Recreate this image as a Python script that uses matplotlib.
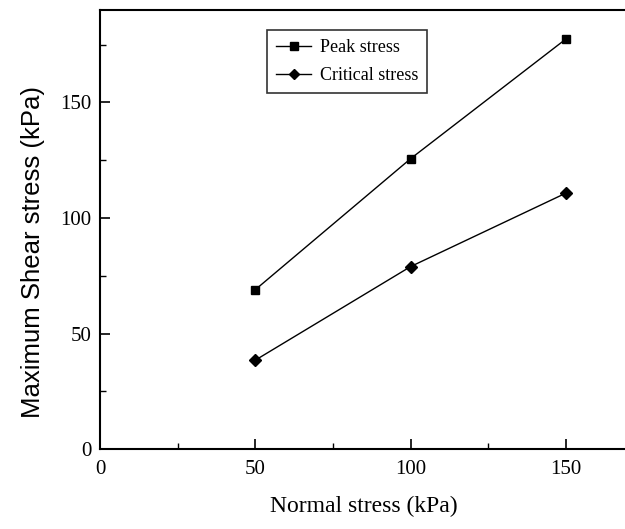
import matplotlib
matplotlib.use("Agg")
import matplotlib.pyplot as plt
from matplotlib.ticker import MultipleLocator

# Normal stress levels and measured shear strengths (kPa)
normal_stress = [50, 100, 150]
peak_stress = [69, 125.7, 177.5]
critical_stress = [38.5, 79, 110.8]

plt.rcParams['font.family'] = ['Liberation Serif', 'DejaVu Serif']

fig = plt.figure(figsize=(6.25, 5.29), dpi=100)
ax = fig.add_axes([0.16, 0.151, 0.845, 0.83])

ax.plot(normal_stress, peak_stress, color='black', linewidth=1.0,
        marker='s', markersize=6, label='Peak stress')
ax.plot(normal_stress, critical_stress, color='black', linewidth=1.0,
        marker='D', markersize=6, label='Critical stress')

ax.set_xlim(0, 170)
ax.set_ylim(0, 190)
ax.xaxis.set_major_locator(MultipleLocator(50))
ax.xaxis.set_minor_locator(MultipleLocator(25))
ax.yaxis.set_major_locator(MultipleLocator(50))
ax.yaxis.set_minor_locator(MultipleLocator(25))
ax.tick_params(which='major', direction='in', length=7, width=1.2, labelsize=15, pad=6)
ax.tick_params(axis='x', which='major', pad=8)
ax.tick_params(which='minor', direction='in', length=4, width=1.0)
for s in ax.spines.values():
    s.set_linewidth(1.5)

ax.set_xlabel('Normal stress (kPa)', fontsize=17, labelpad=12)
ax.set_ylabel('Maximum Shear stress (kPa)', fontsize=18.5,
              family=['Liberation Sans', 'DejaVu Sans'])
ax.yaxis.set_label_coords(-0.105, 0.45)

leg = ax.legend(loc='upper left', bbox_to_anchor=(0.3, 0.975), fontsize=13,
                frameon=True, fancybox=False, edgecolor='black',
                handlelength=1.9, handletextpad=0.5, markerscale=0.85,
                borderpad=0.5, labelspacing=0.6)
leg.get_frame().set_linewidth(1.2)

fig.savefig('out.png', dpi=100)
